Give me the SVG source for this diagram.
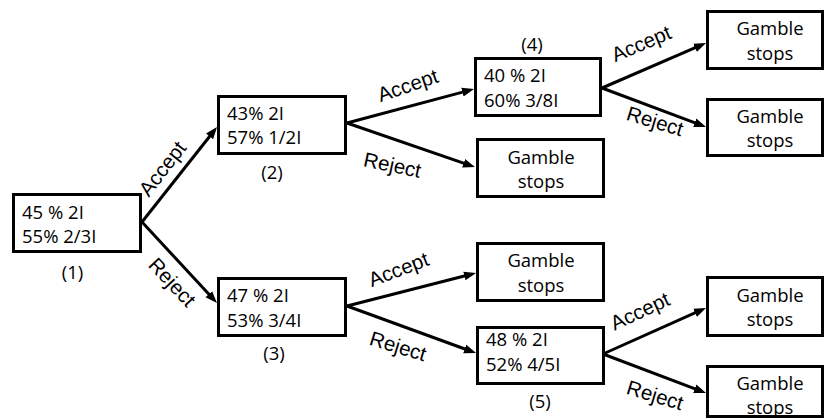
<svg xmlns="http://www.w3.org/2000/svg" width="826" height="420" viewBox="0 0 826 420">
<style>
.box{fill:#fff;stroke:#000;stroke-width:3}
.t{font-family:"Open Sans","Liberation Sans",sans-serif;font-size:18.5px;fill:#000}
.c{text-anchor:middle}
.lbl{font-family:"Liberation Sans",Arial,sans-serif;font-size:20.5px;fill:#000;text-anchor:middle}
.ln{stroke:#000;stroke-width:3;fill:none}
</style>
<defs>
<marker id="ah" viewBox="-6 -5 13 10" refX="0" refY="0" markerWidth="13" markerHeight="10" markerUnits="userSpaceOnUse" orient="auto">
<path d="M6,0 L-6,-4.5 L-6,4.5 Z" fill="#000"/>
</marker>
</defs>
<rect width="826" height="420" fill="#fff"/>
<g id="connectors">
<line class="ln" x1="142" y1="222" x2="213.3" y2="131.7" marker-end="url(#ah)"/>
<line class="ln" x1="142" y1="222" x2="212.9" y2="298.6" marker-end="url(#ah)"/>
<line class="ln" x1="347" y1="123" x2="468.2" y2="90.6" marker-end="url(#ah)"/>
<line class="ln" x1="347" y1="123" x2="469.3" y2="165.1" marker-end="url(#ah)"/>
<line class="ln" x1="347" y1="306" x2="470.2" y2="274.5" marker-end="url(#ah)"/>
<line class="ln" x1="347" y1="306" x2="470.4" y2="351" marker-end="url(#ah)"/>
<line class="ln" x1="602" y1="88" x2="700.5" y2="45.4" marker-end="url(#ah)"/>
<line class="ln" x1="602" y1="88" x2="700.4" y2="124.9" marker-end="url(#ah)"/>
<line class="ln" x1="603" y1="354" x2="700.5" y2="310.4" marker-end="url(#ah)"/>
<line class="ln" x1="603" y1="354" x2="700.4" y2="390.9" marker-end="url(#ah)"/>
<text class="lbl" transform="translate(168,173) rotate(-52)">Accept</text>
<text class="lbl" transform="translate(167,287) rotate(47)">Reject</text>
<text class="lbl" transform="translate(410,92) rotate(-19)">Accept</text>
<text class="lbl" transform="translate(391,172) rotate(12)">Reject</text>
<text class="lbl" transform="translate(401,276) rotate(-21)">Accept</text>
<text class="lbl" transform="translate(396,353) rotate(17)">Reject</text>
<text class="lbl" transform="translate(644,50) rotate(-23)">Accept</text>
<text class="lbl" transform="translate(653,128) rotate(17)">Reject</text>
<text class="lbl" transform="translate(643,317.5) rotate(-25)">Accept</text>
<text class="lbl" transform="translate(653,402) rotate(17)">Reject</text>
</g>
<g id="n1">
<rect class="box" x="13.5" y="194.5" width="127" height="57"/>
<text class="t" x="22" y="218.5">45 % 2I</text>
<text class="t" x="22" y="242.5">55% 2/3I</text>
<text class="t c" x="72.5" y="279">(1)</text>
</g>
<g id="n2">
<rect class="box" x="218.5" y="96.5" width="127" height="57"/>
<text class="t" x="227" y="119.5">43% 2I</text>
<text class="t" x="227" y="144">57% 1/2I</text>
<text class="t c" x="272" y="179">(2)</text>
</g>
<g id="n3">
<rect class="box" x="218.5" y="278.5" width="127" height="57"/>
<text class="t" x="227" y="301.5">47 % 2I</text>
<text class="t" x="227" y="326.5">53% 3/4I</text>
<text class="t c" x="274" y="360">(3)</text>
</g>
<g id="n4">
<rect class="box" x="475.5" y="58.5" width="125" height="57"/>
<text class="t" x="484" y="81.5">40 % 2I</text>
<text class="t" x="484" y="106.5">60% 3/8I</text>
<text class="t c" x="532" y="51">(4)</text>
</g>
<g id="n5">
<rect class="box" x="477.5" y="327.5" width="126" height="56"/>
<text class="t" x="486" y="346">48 % 2I</text>
<text class="t" x="486" y="371">52% 4/5I</text>
<text class="t c" x="540" y="408">(5)</text>
</g>
<g id="gs2r">
<rect class="box" x="477.5" y="139.5" width="126" height="57"/>
<text class="t c" x="541" y="163.5">Gamble</text>
<text class="t c" x="541" y="187.5">stops</text>
</g>
<g id="gs3a">
<rect class="box" x="477.5" y="243.5" width="126" height="57"/>
<text class="t c" x="541" y="267">Gamble</text>
<text class="t c" x="541" y="291.5">stops</text>
</g>
<g id="gs4a">
<rect class="box" x="707.5" y="11.5" width="115" height="57"/>
<text class="t c" x="770" y="35">Gamble</text>
<text class="t c" x="770" y="59.5">stops</text>
</g>
<g id="gs4r">
<rect class="box" x="707.5" y="99.5" width="115" height="56"/>
<text class="t c" x="770" y="123">Gamble</text>
<text class="t c" x="770" y="147">stops</text>
</g>
<g id="gs5a">
<rect class="box" x="707.5" y="277.5" width="115" height="58"/>
<text class="t c" x="770" y="301.5">Gamble</text>
<text class="t c" x="770" y="325.5">stops</text>
</g>
<g id="gs5r">
<rect class="box" x="707.5" y="366.5" width="115" height="50"/>
<text class="t c" x="770" y="390">Gamble</text>
<text class="t c" x="770" y="413.5">stops</text>
</g>
</svg>
